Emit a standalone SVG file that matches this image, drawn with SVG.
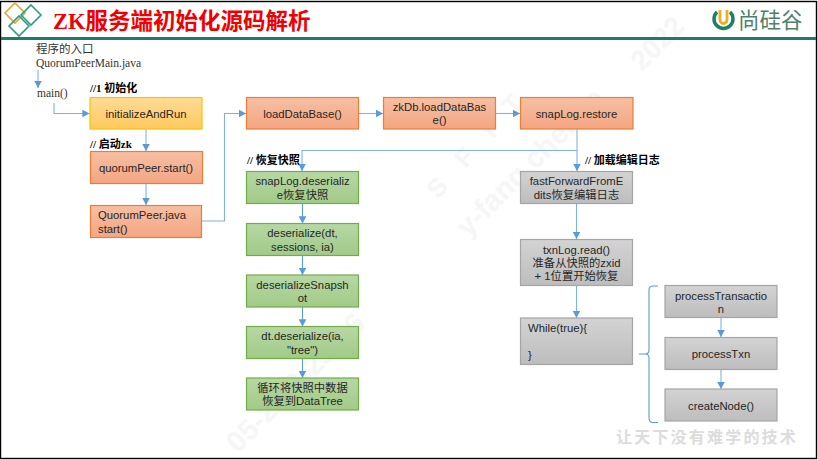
<svg xmlns="http://www.w3.org/2000/svg" width="818" height="460" viewBox="0 0 818 460">
<style>
text{font-family:"Liberation Sans","Noto Sans CJK SC",sans-serif;font-size:11.3px;fill:#262626;text-anchor:middle}
.n{stroke-width:1.2}
.o{fill:url(#go);stroke:#ed7d31}
.y{fill:url(#gy);stroke:#ffc000}
.g{fill:url(#gg);stroke:#70ad47}
.s{fill:url(#gs);stroke:#a5a5a5}
.c{fill:none;stroke:#7fb2e5;stroke-width:1.1}
.b{fill:none;stroke:#5b9bd5;stroke-width:1.1}
.l{font-family:"Liberation Serif","Noto Sans CJK SC",serif;font-weight:700;fill:#000;text-anchor:start;font-size:11px}
.p{font-family:"Liberation Serif","Noto Sans CJK SC",serif;text-anchor:start;fill:#333;font-size:11.500px}
.w{font-size:29px;fill:#f6f6f6;font-weight:700;text-anchor:start}
</style>
<defs>
<linearGradient id="go" x1="0" y1="0" x2="0" y2="1"><stop offset="0" stop-color="#f6bfa2"/><stop offset="1" stop-color="#f4a683"/></linearGradient>
<linearGradient id="gy" x1="0" y1="0" x2="0" y2="1"><stop offset="0" stop-color="#ffdb95"/><stop offset="1" stop-color="#fec95f"/></linearGradient>
<linearGradient id="gg" x1="0" y1="0" x2="0" y2="1"><stop offset="0" stop-color="#b7d7a5"/><stop offset="1" stop-color="#a1cb87"/></linearGradient>
<linearGradient id="gs" x1="0" y1="0" x2="0" y2="1"><stop offset="0" stop-color="#d3d3d3"/><stop offset="1" stop-color="#bdbdbd"/></linearGradient>
<marker id="a" markerWidth="8" markerHeight="8" refX="6.500" refY="3.500" orient="auto"><path d="M0 0L6.500 3.500L0 7Z" fill="#5b9bd5"/></marker>
</defs>
<rect width="818" height="460" fill="#fff"/>
<g id="watermark">
<text class="w" transform="translate(438 200) rotate(-48)" style="font-size:26px;letter-spacing:8.500px">S F I T</text>
<text class="w" transform="translate(468 238) rotate(-45)">y-fang.chenjie</text>
<text class="w" transform="translate(238 454) rotate(-45)">05-24 8:25:06</text>
<text class="w" transform="translate(642 72) rotate(-45)" style="font-size:28px">2022</text>
</g>
<rect x="0.5" y="1.5" width="816" height="457" fill="none" stroke="#000" stroke-width="1.4"/>
<rect x="1" y="37" width="815" height="3" fill="#1f7a68"/>
<g id="logo-left" fill="none" stroke-width="1.6">
<path d="M15 3L25 13L15 23L5 13Z" stroke="#e0a83c"/>
<path d="M31 5L41 15L31 25L21 15Z" stroke="#2c9c83"/>
<path d="M19 16L29 26L19 36L9 26Z" stroke="#2c9c83"/>
</g>
<text id="title" x="53" y="29" style="text-anchor:start;font-family:'Liberation Serif','Noto Sans CJK SC',serif;font-size:22.500px;font-weight:700;fill:#f00000">ZK服务端初始化源码解析</text>
<g id="logo-right">
<path d="M717 12A9.500 9.500 0 1 0 730 12" fill="none" stroke="#1d8064" stroke-width="3.500"/>
<path d="M720 10V20a3.500 3.500 0 0 0 7 0V10" fill="none" stroke="#f0ad1e" stroke-width="2.800"/>
<text x="738" y="28" style="text-anchor:start;font-size:21.500px;fill:#4f7f6c">尚硅谷</text>
</g>
<g id="connectors">
<path class="c" d="M38 70V88" marker-end="url(#a)"/>
<path class="c" d="M54 103V113.500H89.500" marker-end="url(#a)"/>
<path class="c" d="M146 129V151" marker-end="url(#a)"/>
<path class="c" d="M146 183V205" marker-end="url(#a)"/>
<path class="c" d="M202 221H224.500V113.500H246" marker-end="url(#a)"/>
<path class="c" d="M358 113.500H383" marker-end="url(#a)"/>
<path class="c" d="M495 113.500H520" marker-end="url(#a)"/>
<path class="c" d="M577 129V171" marker-end="url(#a)"/>
<path class="c" d="M577 150.500H302V171" marker-end="url(#a)"/>
<path class="b" d="M302.500 203.500V223.500" marker-end="url(#a)"/>
<path class="b" d="M302.500 255.500V275" marker-end="url(#a)"/>
<path class="b" d="M302.500 307V326.500" marker-end="url(#a)"/>
<path class="b" d="M302.500 358.500V378" marker-end="url(#a)"/>
<path class="c" d="M576.500 203.500V239" marker-end="url(#a)"/>
<path class="c" d="M576.500 286V318" marker-end="url(#a)"/>
<path class="c" d="M721 318V337" marker-end="url(#a)"/>
<path class="c" d="M721 369V389" marker-end="url(#a)"/>
<path class="b" d="M658 286H653Q649 286 649 290V350Q649 354 645 354H639M645 354Q649 354 649 358V418Q649 422.500 653 422.500H658"/>
</g>
<g id="entry"><text class="p" x="36" y="53">程序的入口</text><text class="p" x="36" y="67">QuorumPeerMain.java</text></g>
<g id="main"><text class="p" x="37" y="97">main()</text></g>
<text class="l" x="90" y="92">//1 初始化</text>
<text class="l" x="90" y="148">// 启动zk</text>
<text class="l" x="247" y="164">// 恢复快照</text>
<text class="l" x="585" y="164">// 加载编辑日志</text>
<g id="initializeAndRun"><rect class="n y" x="90" y="97.500" width="112" height="31.500"/><text x="146" y="118">initializeAndRun</text></g>
<g id="quorumPeerStart"><rect class="n o" x="90.500" y="151.500" width="112" height="32"/><text x="146" y="172">quorumPeer.start()</text></g>
<g id="quorumPeerJava"><rect class="n o" x="90.500" y="205.500" width="111" height="32"/><text x="98" y="219" style="text-anchor:start">QuorumPeer.java</text><text x="98" y="233" style="text-anchor:start">start()</text></g>
<g id="loadDataBase"><rect class="n o" x="246.500" y="97.500" width="112" height="31.500"/><text x="302.500" y="118">loadDataBase()</text></g>
<g id="zkDbLoad"><rect class="n o" x="383.500" y="97.500" width="112" height="31.500"/><text x="439.500" y="111">zkDb.loadDataBas</text><text x="439.500" y="124">e()</text></g>
<g id="snapLogRestore"><rect class="n o" x="520.500" y="97.500" width="112.500" height="31.500"/><text x="576.500" y="118">snapLog.restore</text></g>
<g id="deserializeRestore"><rect class="n g" x="246.500" y="171.500" width="112" height="32"/><text x="302.500" y="185">snapLog.deserializ</text><text x="302.500" y="199">e恢复快照</text></g>
<g id="deserializeDt"><rect class="n g" x="246.500" y="223.500" width="112" height="32"/><text x="302.500" y="237">deserialize(dt,</text><text x="302.500" y="251">sessions, ia)</text></g>
<g id="deserializeSnapshot"><rect class="n g" x="246.500" y="275" width="112" height="32"/><text x="302.500" y="289">deserializeSnapsh</text><text x="302.500" y="302">ot</text></g>
<g id="dtDeserialize"><rect class="n g" x="246.500" y="326.500" width="112" height="32"/><text x="302.500" y="340">dt.deserialize(ia,</text><text x="302.500" y="354">"tree")</text></g>
<g id="loopRestore"><rect class="n g" x="246.500" y="378" width="112" height="32"/><text x="302.500" y="392">循环将快照中数据</text><text x="302.500" y="405">恢复到DataTree</text></g>
<g id="fastForward"><rect class="n s" x="520.500" y="171.500" width="112" height="32"/><text x="576.500" y="185">fastForwardFromE</text><text x="576.500" y="199">dits恢复编辑日志</text></g>
<g id="txnLogRead"><rect class="n s" x="520.500" y="239.500" width="112" height="46"/><text x="576.500" y="254">txnLog.read()</text><text x="576.500" y="267">准备从快照的zxid</text><text x="576.500" y="280">+ 1位置开始恢复</text></g>
<g id="whileTrue"><rect class="n s" x="520.500" y="318" width="112" height="46.500"/><text x="528" y="332" style="text-anchor:start">While(true){</text><text x="528" y="359" style="text-anchor:start">}</text></g>
<g id="processTransaction"><rect class="n s" x="665" y="285.500" width="112" height="32"/><text x="721" y="300">processTransactio</text><text x="721" y="313">n</text></g>
<g id="processTxn"><rect class="n s" x="665" y="337.500" width="112" height="32"/><text x="721" y="358">processTxn</text></g>
<g id="createNode"><rect class="n s" x="665" y="389" width="112" height="32"/><text x="721" y="410">createNode()</text></g>
<text id="slogan" x="707" y="443" style="font-size:16px;fill:#dcdcdc;font-weight:700;letter-spacing:2.200px">让天下没有难学的技术</text>
</svg>
